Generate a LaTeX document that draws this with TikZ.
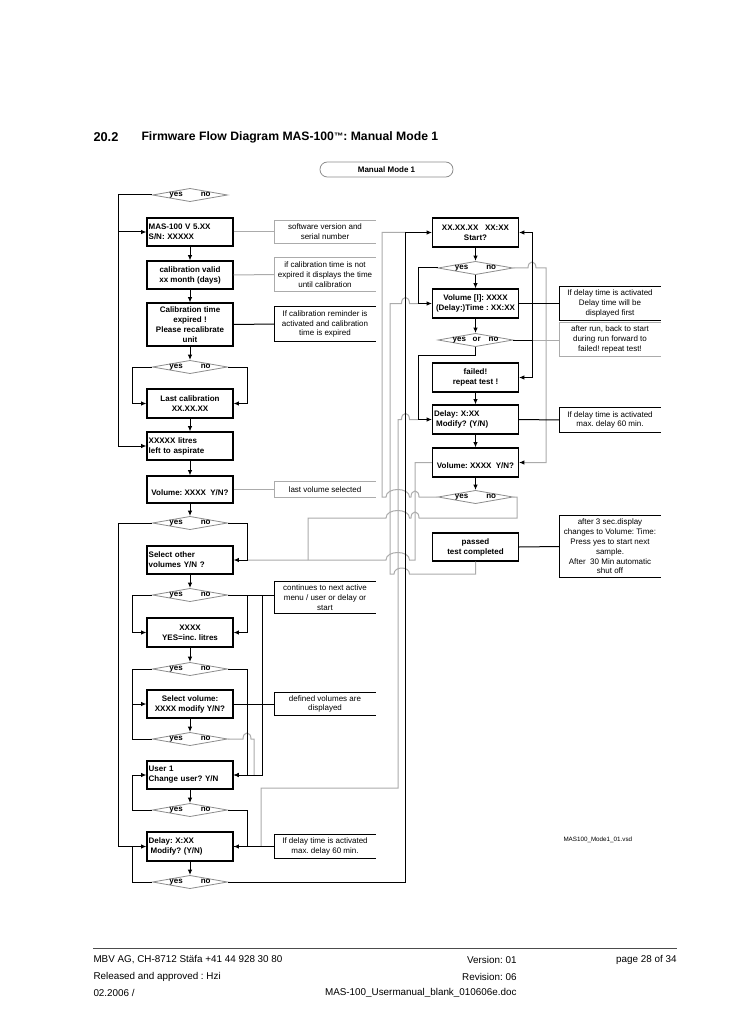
\documentclass[tikz,border=0pt]{standalone}
\usepackage{fontspec}
\setmainfont{Liberation Sans}
\usetikzlibrary{shapes.geometric,arrows.meta}
\definecolor{lgr}{HTML}{ABABAB}
\definecolor{dgr}{HTML}{8C8C8C}
\newcommand{\bxf}{\fontsize{6}{7.5}\selectfont\bfseries}
\newcommand{\ntf}{\fontsize{6}{7.35}\selectfont}
\newcommand{\yn}{\makebox[0pt]{yes\hspace{13.5pt}no}}
\newcommand{\lowr}[1]{\raisebox{-2.6pt}[\height][\depth]{#1}}
\frenchspacing
\begin{document}
\frenchspacing
\begin{tikzpicture}[x=0.75pt,y=-0.75pt,line width=0.75pt,
  bx/.style={draw,line width=0.85pt,minimum width=64.5pt,inner xsep=1.2pt,inner ysep=0pt,font=\bxf,align=center},
  bxl/.style={bx,align=left,text width=62pt},
  dia/.style={diamond,draw=dgr,line width=0.6pt,minimum width=56.25pt,minimum height=10pt,inner sep=0pt,font=\bxf},
  nt/.style={minimum width=75pt,inner sep=0pt,font=\ntf,align=center},
  gl/.style={draw=lgr},
  ar/.style={-{Latex[length=4pt,width=3.4pt]}},
  gar/.style={draw=lgr,-{Latex[length=4pt,width=3.4pt,color=black]}},
  ft/.style={font=\fontsize{7.4}{9}\selectfont,inner sep=0pt},
]
\fill[white] (0,0) rectangle (728,1030);
\useasboundingbox (0,0) rectangle (728,1030);

% title
\node[anchor=west,inner sep=0pt,font=\fontsize{9.6}{11}\selectfont\bfseries] (sec) at (93,137) {20.2};
\node[anchor=west,inner sep=0pt,font=\fontsize{9.15}{11}\selectfont\bfseries] (ttl) at (141,137) {Firmware Flow Diagram MAS-100\raisebox{0.6pt}{\fontsize{7}{7}\selectfont ™}: Manual Mode 1};
\node[draw=dgr,line width=0.6pt,rounded corners=5.5pt,minimum width=99.75pt,minimum height=11.25pt,inner sep=0pt,font=\bxf] (mm) at (386.5,169.5) {Manual Mode 1};

% rails
\coordinate (xa) at (118,0);
\coordinate (xb) at (132,0);
\coordinate (xc) at (247,0);
\coordinate (xd) at (262,0);
\coordinate (xe) at (254,0);
\coordinate (xf) at (308,0);
\coordinate (xg) at (261,0);
\coordinate (g1) at (382,0);
\coordinate (g2) at (390,0);
\coordinate (g3) at (398,0);
\coordinate (k) at (405.5,0);
\coordinate (ra) at (418,0);
\coordinate (rb) at (532,0);
\coordinate (rc) at (546,0);
\coordinate (rd) at (517,0);
\coordinate (re) at (415,0);

% left column boxes
\node[bxl,minimum height=21pt] (mas) at (190,232) {MAS-100 V 5.XX\\S/N: XXXXX};
\node[bx,minimum height=21pt] (calv) at (190,275) {calibration valid\\xx month (days)};
\node[bx,minimum height=32.25pt] (cexp) at (190,324.5) {Calibration time\\expired !\\Please recalibrate\\unit};
\node[bx,minimum height=21.75pt] (lastc) at (190,403.5) {Last calibration\\XX.XX.XX};
\node[bxl,minimum height=21pt] (litres) at (190,446) {XXXXX litres\\left to aspirate};
\node[bx,minimum height=20.25pt] (vol) at (190,489.5) {\lowr{Volume: XXXX\ \ Y/N?}};
\node[bxl,minimum height=21pt] (selo) at (190,560) {Select other\\volumes Y/N ?};
\node[bx,minimum height=21.75pt] (xxxx) at (190,632.5) {XXXX\\YES=inc. litres};
\node[bx,minimum height=21pt] (selv) at (190,704) {Select volume:\\XXXX modify Y/N?};
\node[bxl,minimum height=21pt] (user) at (190,775) {User 1\\Change user? Y/N};
\node[bxl,minimum height=21.75pt] (delL) at (190,846.5) {Delay: X:XX\\\hspace*{1.5pt}Modify? (Y/N)};

\node[dia] (d1) at (190,195) {\yn};
\node[dia] (d2) at (190,367) {\yn};
\node[dia] (d3) at (190,523) {\yn};
\node[dia] (d4) at (190,595) {\yn};
\node[dia] (d5) at (190,669) {\yn};
\node[dia] (d6) at (190,739) {\yn};
\node[dia] (d7) at (190,810) {\yn};
\node[dia] (d8) at (190,882) {\yn};

% right column boxes
\node[bx,minimum height=21.75pt] (start) at (475.5,232.5) {XX.XX.XX\ \ \ XX:XX\\Start?};
\node[dia] (r1) at (475.5,268) {\yn};
\node[bx,minimum height=21.75pt] (volT) at (475.5,303.5) {Volume [l]: XXXX\\(Delay:)Time : XX:XX};
\node[dia] (r2) at (475.5,340) {\makebox[0pt]{yes\hspace{5pt}or\hspace{6pt}no}};
\node[bx,minimum height=21.75pt] (failed) at (475.5,377.5) {failed!\\repeat test !};
\node[bxl,minimum height=21.75pt] (delR) at (475.5,419.5) {Delay: X:XX\\\hspace*{1.5pt}Modify? (Y/N)};
\node[bx,minimum height=21.75pt] (volR) at (475.5,462.5) {\lowr{Volume: XXXX\ \ Y/N?}};
\node[dia] (r3) at (475.5,497) {\yn};
\node[bx,minimum height=21pt] (passed) at (475.5,547) {passed\\test completed};

% notes
\node[nt,minimum height=16.5pt] (n1) at (325,232) {software version and\\serial number};
\node[nt,minimum height=24.75pt] (n2) at (325,274.5) {if calibration time is not\\expired it displays the time\\until calibration};
\node[nt,minimum height=25.5pt] (n3) at (325,324) {If calibration reminder is\\activated and calibration\\time is expired};
\node[nt,minimum height=11.25pt] (n4) at (325,489.5) {last volume selected};
\node[nt,minimum height=23.25pt] (n5) at (325,597.5) {continues to next active\\menu / user or delay or\\start};
\node[nt,minimum height=16.5pt] (n6) at (325,704) {defined volumes are\\displayed};
\node[nt,minimum height=17.25pt] (n7) at (325,846.5) {If delay time is activated\\max. delay 60 min.};
\node[nt,minimum height=24.75pt] (m1) at (610,303.5) {If delay time is activated\\Delay time will be\\displayed first};
\node[nt,minimum height=24.75pt] (m2) at (610,339.5) {after run, back to start\\during run forward to\\failed! repeat test!};
\node[nt,minimum height=18pt] (m3) at (610,420) {If delay time is activated\\max. delay 60 min.};
\node[nt,minimum height=45.75pt] (m4) at (610,546.5) {after 3 sec.display\\changes to Volume: Time:\\Press yes to start next\\sample.\\After\ \ 30 Min automatic\\shut off};

\foreach \n in {n1,n2,n4,m2}
  \draw[lgr] (\n.north east) -- (\n.north west) -- (\n.south west) -- (\n.south east);
\foreach \n in {n3,n5,n6,n7,m1,m3,m4}
  \draw (\n.north east) -- (\n.north west) -- (\n.south west) -- (\n.south east);

% gray connectors
\draw[gl] (mas.east) -- (n1.west);
\draw[gl] (calv.east) -- (n2.west);
\draw[gl] (vol.east) -- (n4.west);
\draw[gl] (d6.east) -- (243,739) .. controls (243,731) and (251,731) .. (251,739) -- (d6.east -| xe) -- (user.east -| xe);
\draw[gl] (delL.east -| xg) -- (261,788) -- (398,788) -- (398,419.5) -- (401.5,419.5) .. controls (401.5,411.5) and (409.5,411.5) .. (409.5,419.5) -- (delR.west -| ra);
\draw[gar] (r1.east) -- (528,268) .. controls (528,260) and (536,260) .. (536,268) -- (r1.east -| rc) -- (volR.east -| rc) -- (volR.east);
\draw[gl] (r2.east -| rb) -- (r2.east -| m2.west);
\draw[gl] (r3.west) -- (419,497) .. controls (419,489) and (411,489) .. (411,497) -- (409.5,497) .. controls (409.5,487) and (386,487) .. (386,497) -- (r3.west -| g1) -- (start.west -| g1) -- (start.west -| k);
\draw[gl] (r3.east) -- (r3.east -| rd) -- (517,518) -- (419,518) .. controls (419,510) and (411,510) .. (411,518) -- (409.5,518) .. controls (409.5,508) and (386,508) .. (386,518) -- (308,518) -- (selo.east -| xf);
\draw[gl] (volR.west) -- (volR.west -| re) -- (415,560) -- (409.5,560) .. controls (409.5,550) and (386,550) .. (386,560) -- (selo.east -| xc);
\draw[gl] (passed.south) -- (475.5,574) -- (409.5,574) .. controls (409.5,566) and (394,566) .. (394,574) -- (390,574) -- (390,303.5) -- (401.5,303.5) .. controls (401.5,295.5) and (409.5,295.5) .. (409.5,303.5) -- (volT.west -| ra);

% left black connectors
\draw[ar] (d1.west) -- (d1.west -| xa) -- (litres.west -| xa) -- (litres.west);
\draw[ar] (mas.west -| xa) -- (mas.west);
\draw[ar] (mas.south) -- (calv.north);
\draw[ar] (calv.south) -- (cexp.north);
\draw[ar] (cexp.south) -- (d2.north);
\draw (cexp.east) -- (n3.west);
\draw[ar] (d2.west) -- (d2.west -| xb) -- (lastc.west -| xb) -- (lastc.west);
\draw[ar] (d2.east) -- (d2.east -| xc) -- (lastc.east -| xc) -- (lastc.east);
\draw[ar] (lastc.south) -- (litres.north);
\draw[ar] (litres.south) -- (vol.north);
\draw[ar] (vol.south) -- (d3.north);
\draw[ar] (d3.west) -- (d3.west -| xa) -- (delL.west -| xa) -- (delL.west);
\draw[ar] (d3.east) -- (d3.east -| xc) -- (selo.east -| xc) -- (selo.east);
\draw[ar] (selo.south) -- (d4.north);
\draw[ar] (d4.west) -- (d4.west -| xb) -- (xxxx.west -| xb) -- (xxxx.west);
\draw[ar] (d4.east -| xc) -- (xxxx.east -| xc) -- (xxxx.east);
\draw (d4.east) -- (d4.east -| n5.west);
\draw[ar] (d4.east -| xd) -- (user.east -| xd) -- (user.east);
\draw[ar] (xxxx.south) -- (d5.north);
\draw[ar] (d5.west) -- (d5.west -| xb) -- (selv.west -| xb) -- (selv.west);
\draw (d6.west) -- (d6.west -| xb) -- (selv.west -| xb);
\draw[ar] (d5.east) -- (d5.east -| xc) -- (user.east -| xc) -- (user.east);
\draw[ar] (selv.south) -- (d6.north);
\draw (selv.east) -- (n6.west);
\draw[ar] (user.south) -- (d7.north);
\draw[ar] (d7.west) -- (d7.west -| xb) -- (user.west -| xb) -- (user.west);
\draw[ar] (d7.east) -- (d7.east -| xc) -- (delL.east -| xc) -- (delL.east);
\draw (delL.east) -- (n7.west);
\draw[ar] (delL.south) -- (d8.north);
\draw (d8.west) -- (d8.west -| xb) -- (delL.west -| xb);
\draw[ar] (d8.east) -- (d8.east -| k) -- (start.west -| k) -- (start.west);

% right black connectors
\draw[ar] (start.south) -- (r1.north);
\draw[ar] (r1.south) -- (volT.north);
\draw[ar] (r1.west) -- (r1.west -| ra) -- (volT.west -| ra) -- (volT.west);
\draw[ar] (volT.south) -- (r2.north);
\draw (volT.east) -- (m1.west);
\draw[ar] (r2.east -| rb) -- (start.east -| rb) -- (start.east);
\draw[ar] (r2.east) -- (r2.east -| rb) -- (failed.east -| rb) -- (failed.east);
\draw[ar] (r2.south) -- (475.5,355) -- (418,355) -- (delR.west -| ra) -- (delR.west);
\draw[ar] (failed.south) -- (delR.north);
\draw (delR.east) -- (m3.west);
\draw[ar] (delR.south) -- (volR.north);
\draw[ar] (volR.south) -- (r3.north);
\draw (passed.east) -- (m4.west);

\node[anchor=west,inner sep=0pt,font=\fontsize{4.7}{6}\selectfont] (vsd) at (563,840) {MAS100\_Mode1\_01.vsd};

% footer
\draw[line width=0.6pt,black!70] (93,948) -- (677,948);
\node[ft,anchor=west] (f1) at (93,960) {MBV AG, CH-8712 Stäfa +41 44 928 30 80};
\node[ft,anchor=west] (f2) at (93,976.5) {Released and approved : Hzi};
\node[ft,anchor=west] (f3) at (93,993) {02.2006 /};
\node[ft,anchor=east] (f4) at (517,960) {Version: 01};
\node[ft,anchor=east] (f5) at (517,976.5) {Revision: 06};
\node[ft,anchor=east] (f6) at (517,993) {MAS-100\_Usermanual\_blank\_010606e.doc};
\node[ft,anchor=east] (f7) at (677,960) {page 28 of 34};
\end{tikzpicture}
\end{document}
